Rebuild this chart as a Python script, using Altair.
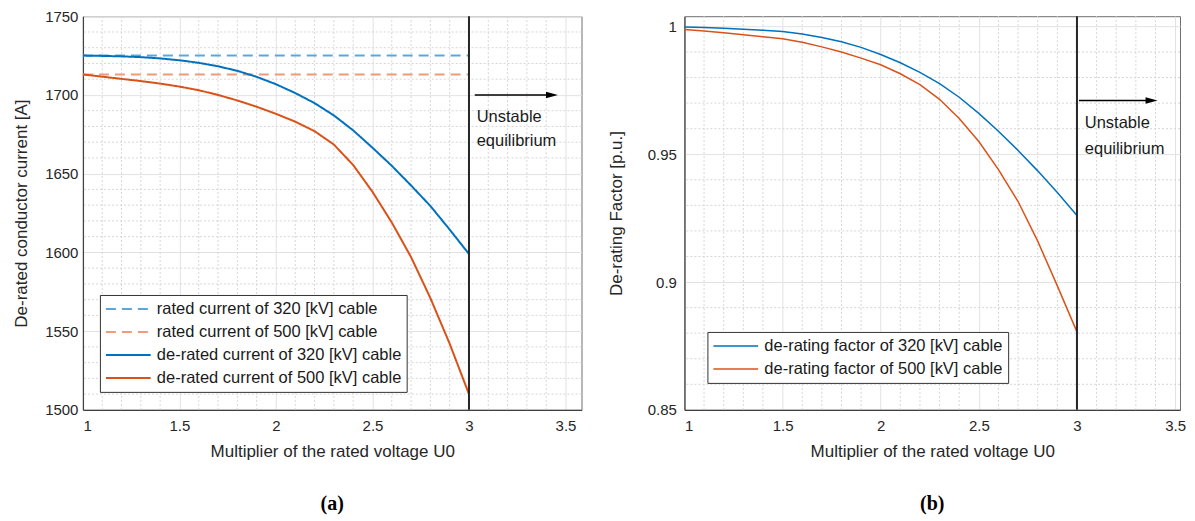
import altair as alt
import pandas as pd

FONT = "Liberation Sans"
BLUE = "#0072BD"
ORANGE = "#D95319"
BLUE_L = "#5AA7E0"
ORANGE_L = "#EE9B7A"
TXT = "#262626"

# ---------------- data ----------------
voltage_multiplier = [1.0, 1.1, 1.2, 1.3, 1.4, 1.5, 1.6, 1.7, 1.8, 1.9, 2.0,
                      2.1, 2.2, 2.3, 2.4, 2.5, 2.6, 2.7, 2.8, 2.9, 3.0]
derated_320 = [1725.0, 1724.8, 1724.5, 1724.0, 1723.2, 1722.0, 1720.4, 1718.2, 1715.3, 1711.5, 1706.8,
               1701.2, 1694.8, 1687.0, 1677.5, 1666.5, 1655.0, 1642.5, 1629.5, 1614.5, 1599.0]
derated_500 = [1713.0, 1711.6, 1710.2, 1708.8, 1707.2, 1705.3, 1703.0, 1700.0, 1696.5, 1692.5, 1688.0,
               1683.0, 1677.0, 1668.5, 1655.5, 1638.5, 1619.0, 1597.0, 1571.0, 1542.0, 1510.0]
rated_x = [1.0, 3.0]
rated_320 = [1725.0, 1725.0]
rated_500 = [1713.0, 1713.0]

factor_320 = [0.9998, 0.9996, 0.9993, 0.9989, 0.9985, 0.9980, 0.9970, 0.9957, 0.9940, 0.9918, 0.9890,
              0.9858, 0.9820, 0.9776, 0.9723, 0.9660, 0.9590, 0.9515, 0.9435, 0.9350, 0.9260]
factor_500 = [0.9988, 0.9982, 0.9975, 0.9967, 0.9960, 0.9952, 0.9938, 0.9920, 0.9900, 0.9876, 0.9850,
              0.9815, 0.9772, 0.9715, 0.9640, 0.9550, 0.9440, 0.9315, 0.9160, 0.8985, 0.8805]

left_series = ["rated current of 320 [kV] cable", "rated current of 500 [kV] cable",
               "de-rated current of 320 [kV] cable", "de-rated current of 500 [kV] cable"]
right_series = ["de-rating factor of 320 [kV] cable", "de-rating factor of 500 [kV] cable"]

x_major = [1, 1.5, 2, 2.5, 3, 3.5]
x_minor = [1.1, 1.2, 1.3, 1.4, 1.6, 1.7, 1.8, 1.9, 2.1, 2.2, 2.3, 2.4,
           2.6, 2.7, 2.8, 2.9, 3.1, 3.2, 3.3, 3.4]
left_y_major = [1500, 1550, 1600, 1650, 1700, 1750]
left_y_minor = [1510, 1520, 1530, 1540, 1560, 1570, 1580, 1590, 1610, 1620, 1630, 1640,
                1660, 1670, 1680, 1690, 1710, 1720, 1730, 1740]
right_y_major = [0.85, 0.9, 0.95, 1.0]
right_y_minor = [0.86, 0.87, 0.88, 0.89, 0.91, 0.92, 0.93, 0.94, 0.96, 0.97, 0.98, 0.99]

stability_limit = [3.0]
annotation_lines = ["Unstable", "equilibrium"]

left_arrow = {"x": [3.03], "x2": [3.43], "y": [1700]}
left_text_x = [3.04, 3.04]
left_text_y = [1686, 1671]
right_arrow = {"x": [3.01], "x2": [3.38], "y": [0.971]}
right_text_x = [3.04, 3.04]
right_text_y = [0.9624, 0.952]

# ---------------- tables ----------------
left_df = pd.concat([
    pd.DataFrame({"x": rated_x, "y": rated_320, "series": left_series[0]}),
    pd.DataFrame({"x": rated_x, "y": rated_500, "series": left_series[1]}),
    pd.DataFrame({"x": voltage_multiplier, "y": derated_320, "series": left_series[2]}),
    pd.DataFrame({"x": voltage_multiplier, "y": derated_500, "series": left_series[3]}),
])
right_df = pd.concat([
    pd.DataFrame({"x": voltage_multiplier, "y": factor_320, "series": right_series[0]}),
    pd.DataFrame({"x": voltage_multiplier, "y": factor_500, "series": right_series[1]}),
])

# legend symbol: a 45 px horizontal stroke starting at the entry's left edge
LEG_SYMBOL = "M -1 0 L 4.6 0"


def panel(df, series, colors, dashes, widths, xdom, ydom, y_major, y_minor, yfmt, ytitle,
          ytitle_pad, ylabel_pad, legend_xy, arrow, tx, ty, label, w, h):
    xs = alt.Scale(domain=xdom, nice=False, zero=False)
    ys = alt.Scale(domain=ydom, nice=False, zero=False)
    xaxis = alt.Axis(values=x_major, format="~g", title="Multiplier of the rated voltage U0",
                     grid=True, ticks=False, labelPadding=9, titlePadding=10)
    yaxis = alt.Axis(values=y_major, format=yfmt, title=ytitle, grid=True, ticks=False,
                     labelPadding=ylabel_pad, titlePadding=ytitle_pad)
    X = lambda f: alt.X(f, scale=xs, axis=xaxis)
    Y = lambda f: alt.Y(f, scale=ys, axis=yaxis)

    minor_v = alt.Chart(pd.DataFrame({"v": x_minor})).mark_rule(
        color="#d6d6d6", strokeWidth=1, strokeDash=[2, 2]).encode(x=X("v:Q"))
    minor_h = alt.Chart(pd.DataFrame({"v": y_minor})).mark_rule(
        color="#d6d6d6", strokeWidth=1, strokeDash=[2, 2]).encode(y=Y("v:Q"))

    leg = alt.Legend(title=None, orient="none", legendX=legend_xy[0], legendY=legend_xy[1],
                     fillColor="white", strokeColor="#333333", padding=5, symbolType=LEG_SYMBOL,
                     symbolSize=256, symbolStrokeWidth=1.6, labelFont=FONT, labelFontSize=16.5,
                     labelColor="#1a1a1a", labelLimit=500, labelOffset=34, rowPadding=5)
    enc = dict(
        x=X("x:Q"), y=Y("y:Q"),
        color=alt.Color("series:N", scale=alt.Scale(domain=series, range=colors), legend=leg),
        detail="series:N",
        strokeWidth=alt.StrokeWidth("series:N", scale=alt.Scale(domain=series, range=widths), legend=None),
    )
    if dashes is not None:
        enc["strokeDash"] = alt.StrokeDash("series:N", scale=alt.Scale(domain=series, range=dashes), legend=leg)
    lines = alt.Chart(df).mark_line().encode(**enc)

    vline = alt.Chart(pd.DataFrame({"x": stability_limit})).mark_rule(
        color="#262626", strokeWidth=2).encode(x=X("x:Q"))
    arr = alt.Chart(pd.DataFrame(arrow)).mark_rule(color="black", strokeWidth=1.5).encode(
        x=X("x:Q"), x2="x2:Q", y=Y("y:Q"))
    head = alt.Chart(pd.DataFrame(arrow)).mark_point(
        shape="M -1 -0.55 L 1 0 L -1 0.55 Z", filled=True, size=144, color="black", opacity=1
    ).encode(x=X("x2:Q"), y=Y("y:Q"))
    txt = alt.Chart(pd.DataFrame({"x": tx, "y": ty, "t": annotation_lines})).mark_text(
        align="left", baseline="middle", font=FONT, fontSize=16.5, color="#1a1a1a"
    ).encode(x=X("x:Q"), y=Y("y:Q"), text="t:N")

    return alt.layer(minor_v, minor_h, lines, vline, arr, head, txt).properties(
        width=w, height=h,
        title=alt.TitleParams(text=label, orient="bottom", anchor="middle", font="Liberation Serif",
                              fontSize=20, fontWeight="bold", color="black", offset=34),
    )


left = panel(left_df, left_series, [BLUE_L, ORANGE_L, BLUE, ORANGE],
             [[10, 6], [10, 6], [1, 0], [1, 0]], [2, 2, 1.5, 1.5],
             [1, 3.583], [1500, 1750], left_y_major, left_y_minor, "d",
             "De-rated conductor current [A]", 14, 5, (17, 279), left_arrow,
             left_text_x, left_text_y, "(a)", 499, 394)
right = panel(right_df, right_series, [BLUE, ORANGE], None, [1.5, 1.5],
              [1, 3.525], [0.85, 1.004], right_y_major, right_y_minor, "~g",
              "De-rating Factor [p.u.]", 22, 8, (23, 316), right_arrow,
              right_text_x, right_text_y, "(b)", 496, 394)

chart = alt.hconcat(left, right, spacing=24).resolve_scale(
    x="independent", y="independent", color="independent",
    strokeDash="independent", strokeWidth="independent",
).resolve_legend(color="independent", strokeDash="independent").properties(
    padding={"left": 4, "top": 0, "right": 0, "bottom": 0}
).configure_view(stroke="#6e6e6e", strokeWidth=1).configure_axis(
    labelFont=FONT, labelFontSize=15, labelColor=TXT,
    titleFont=FONT, titleFontSize=17, titleColor=TXT, titleFontWeight="normal",
    gridColor="#e2e2e2", gridWidth=1, domainColor="#404040", domainWidth=1.2,
)

chart.save("out.html", embed_options={"renderer": "svg", "actions": False})
